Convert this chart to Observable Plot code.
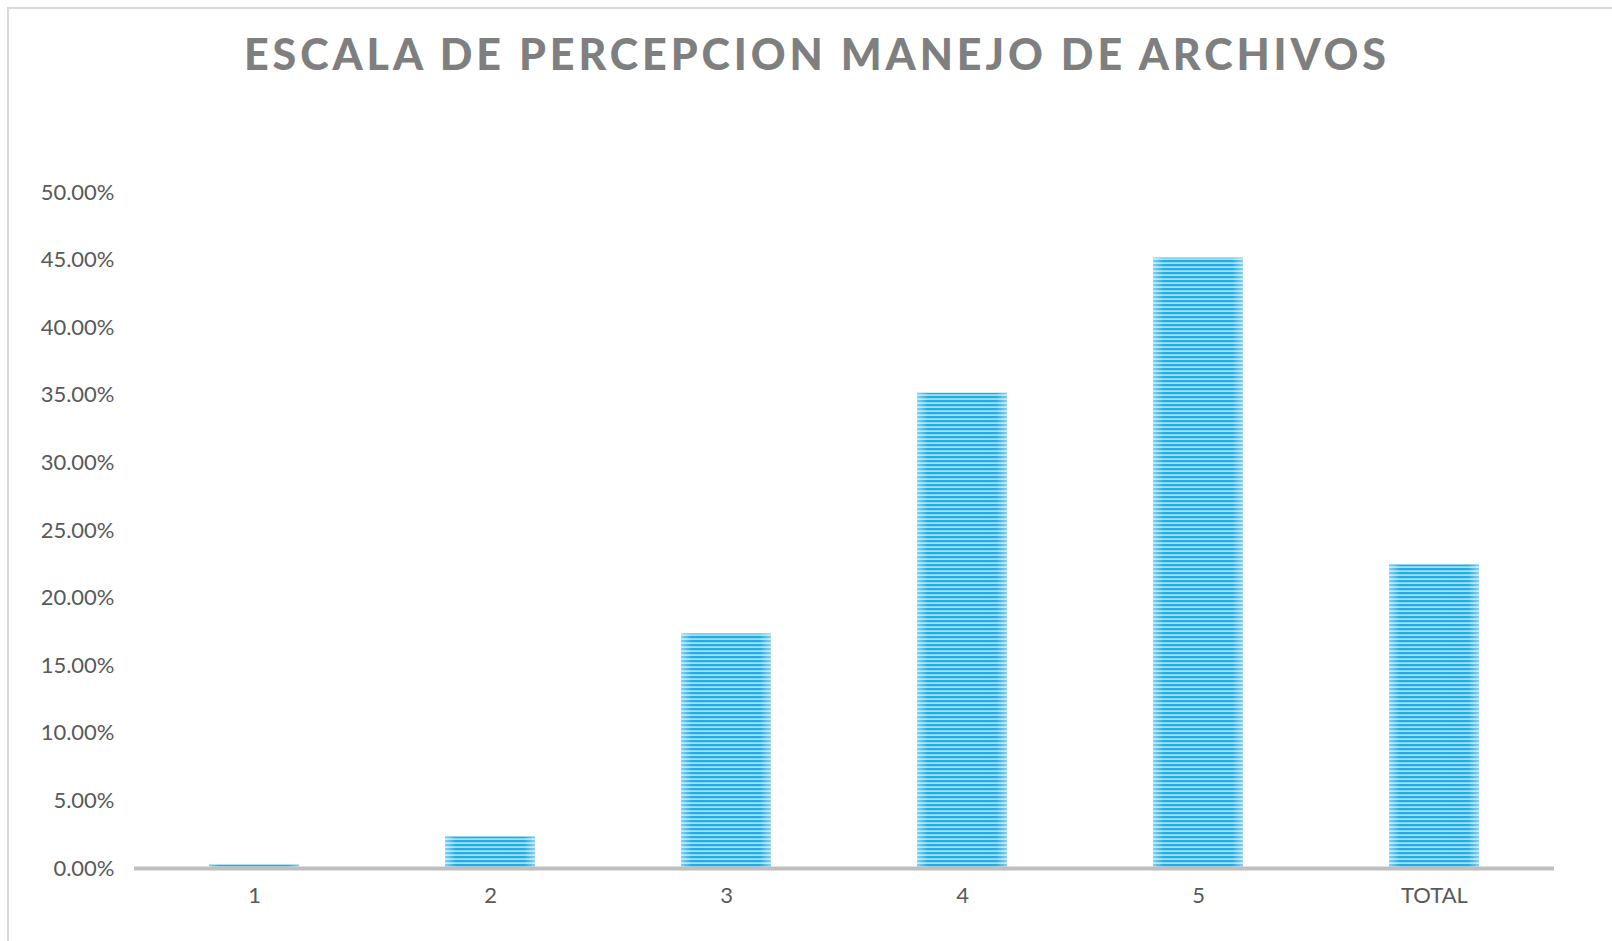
<!DOCTYPE html>
<html>
<head>
<meta charset="utf-8">
<script src="https://cdn.jsdelivr.net/npm/d3@7"></script>
<script src="https://cdn.jsdelivr.net/npm/@observablehq/plot@0.6"></script>
<style>
  html, body { margin: 0; padding: 0; background: #fff; }
  #page { position: relative; width: 1612px; height: 941px; overflow: hidden; background: #fff; }
  #frame { position: absolute; left: 7px; top: 7px; width: 1700px; height: 1000px; border-left: 2px solid #d9d9d9; border-top: 2px solid #d9d9d9; box-sizing: border-box; }
  #title { position: absolute; left: 0; top: 0; }
  #chart { position: absolute; left: 0; top: 120px; }
</style>
</head>
<body>
<div id="page">
  <div id="frame"></div>
  <div id="title"></div>
  <div id="chart"></div>
</div>
<script>
const titleText = "ESCALA DE PERCEPCION MANEJO DE ARCHIVOS";
const categories = ["1", "2", "3", "4", "5", "TOTAL"];
const values = [0.0025, 0.0233, 0.1735, 0.3515, 0.4515, 0.2245];
const yTicks = [0, 0.05, 0.10, 0.15, 0.20, 0.25, 0.30, 0.35, 0.40, 0.45, 0.50];

const data = categories.map((c, i) => ({category: c, value: values[i]}));

// Title
const tsvg = d3.select("#title").append("svg").attr("width", 1612).attr("height", 120);
tsvg.append("text")
  .attr("x", 244).attr("y", 70)
  .attr("textLength", 1142).attr("lengthAdjust", "spacing")
  .attr("font-family", "Lato, 'Open Sans', sans-serif")
  .attr("font-weight", 900)
  .attr("font-size", 43)
  .attr("fill", "#7f7f7f")
  .text(titleText);

const plot = Plot.plot({
  width: 1612,
  height: 821,
  marginTop: 72,
  marginBottom: 73,
  marginLeft: 134,
  marginRight: 58,
  style: {fontFamily: "Lato, 'Open Sans', sans-serif", fontSize: "22px", color: "#595959", background: "transparent"},
  x: {domain: categories, paddingInner: 0.62, paddingOuter: 0.31, label: null, tickSize: 0, tickPadding: 19},
  y: {domain: [0, 0.5], ticks: yTicks, tickFormat: d3.format(".2%"), label: null, tickSize: 0, tickPadding: 20},
  marks: [
    Plot.barY(data, {x: "category", y: "value", fill: "url(#stripes)"}),
    Plot.barY(data, {x: "category", y: "value", fill: "url(#edgeGlow)"}),
    Plot.ruleY([0], {stroke: "#bfbfbf", strokeWidth: 4})
  ]
});

const ns = "http://www.w3.org/2000/svg";
const defs = document.createElementNS(ns, "defs");
defs.innerHTML = `
  <pattern id="stripes" patternUnits="userSpaceOnUse" width="8" height="4">
    <rect x="0" y="0" width="8" height="4" fill="#a9dcf3"/>
    <rect x="0" y="0" width="8" height="2.2" fill="#1eaee6"/>
  </pattern>
  <linearGradient id="edgeGlow" x1="0" y1="0" x2="1" y2="0">
    <stop offset="0" stop-color="#ffffff" stop-opacity="0.45"/>
    <stop offset="0.12" stop-color="#ffffff" stop-opacity="0"/>
    <stop offset="0.88" stop-color="#ffffff" stop-opacity="0"/>
    <stop offset="1" stop-color="#ffffff" stop-opacity="0.45"/>
  </linearGradient>`;
plot.insertBefore(defs, plot.firstChild);
document.getElementById("chart").appendChild(plot);
</script>
</body>
</html>
